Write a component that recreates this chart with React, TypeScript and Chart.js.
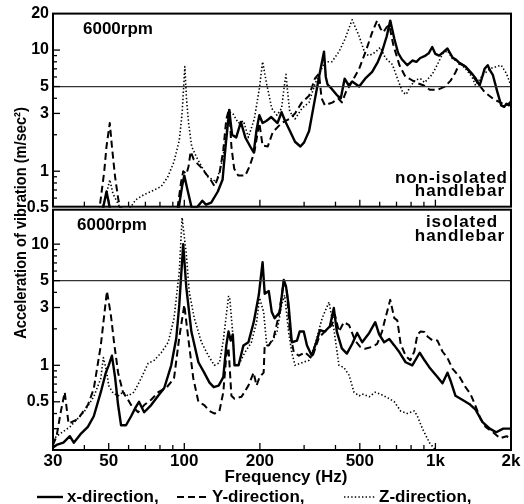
import React, { useEffect, useRef } from "react";
import { Chart, registerables } from "chart.js";

Chart.register(...registerables);

const FAMILY = '"Liberation Sans", Arial, sans-serif';

// ---- axes / ticks ----
const xTickValues = [30, 50, 100, 200, 500, 1000, 2000];
const xTickLabels = ["30", "50", "100", "200", "500", "1k", "2k"];
const xMinorTicks = [40, 60, 70, 80, 90, 300, 400, 600, 700, 800, 900];
const yTopTickValues = [0.5, 1, 3, 5, 10, 20];
const yTopTickLabels = ["0.5", "1", "3", "5", "10", "20"];
const yBotTickValues = [0.5, 1, 3, 5, 10];
const yBotTickLabels = ["0.5", "1", "3", "5", "10"];
const yMinorTicks = [0.2, 0.3, 0.4, 0.6, 0.7, 0.8, 0.9, 2, 4, 6, 7, 8, 9, 20];
const referenceLevel = 5;
const legendNames = ["x-direction,", "Y-direction,", "Z-direction,"];

// ---- data: [frequency Hz, acceleration m/s^2] ----
// non-isolated handlebar
const topX: [number, number][] = [
  [30, 0.3], [44, 0.35], [47, 0.45], [49, 0.68], [51, 0.45], [53, 0.33], [90, 0.35], [95, 0.5], [98, 0.75],
  [100, 0.92], [103, 0.7], [107, 0.5], [112, 0.5], [118, 0.57], [122, 0.53], [128, 0.55], [136, 0.68], [142, 0.85],
  [146, 1.6], [151, 3.2], [155, 2.0], [161, 1.9], [168, 2.55], [175, 1.9], [183, 1.6], [189, 1.43], [194, 2.2],
  [199, 2.9], [205, 2.5], [212, 2.6], [222, 2.8], [235, 2.5], [244, 3.07], [252, 2.6], [262, 2.2], [276, 1.75],
  [290, 1.6], [300, 1.73], [314, 2.15], [331, 3.9], [345, 6.2], [360, 9.7], [366, 6.0], [372, 5.2], [386, 4.8],
  [405, 4.25], [420, 4.0], [435, 5.8], [452, 5.1], [466, 5.5], [497, 5.0], [525, 5.8], [560, 6.6], [590, 8.0],
  [613, 9.7], [640, 13.0], [661, 17.5], [686, 12.4], [710, 9.5], [735, 8.4], [773, 7.5], [810, 8.2], [840, 8.0],
  [870, 8.6], [905, 8.9], [940, 9.4], [971, 10.6], [1000, 9.3], [1034, 9.0], [1075, 9.6], [1117, 10.3], [1169, 8.7],
  [1210, 8.3], [1249, 7.8], [1318, 7.3], [1360, 6.8], [1406, 6.3], [1450, 5.8], [1500, 5.1], [1570, 7.0], [1616, 7.5],
  [1650, 6.8], [1695, 6.2], [1760, 4.6], [1828, 3.5], [1880, 3.4], [1918, 3.6], [1960, 3.5], [2000, 3.8],
];
const topY: [number, number][] = [
  [30, 0.3], [44, 0.35], [46, 0.5], [48, 1.0], [49, 1.6], [50.5, 2.5], [51.5, 1.6], [53, 0.9], [54.5, 0.6], [56, 0.45],
  [58, 0.35], [90, 0.35], [94, 0.5], [97, 0.8], [99, 1.0], [102, 0.95], [104, 1.1], [106, 1.45], [109, 1.25],
  [113, 1.15], [118, 1.05], [122, 0.95], [126, 0.88], [132, 0.75], [138, 0.95], [143, 1.5], [147, 2.7], [151, 3.3],
  [154, 1.6], [158, 1.05], [164, 0.92], [175, 0.92], [182, 1.1], [190, 1.43], [199, 2.5], [205, 1.63], [215, 1.6],
  [225, 2.1], [244, 2.5], [262, 2.7], [276, 3.0], [294, 3.7], [314, 4.2], [331, 5.8], [344, 6.4], [352, 4.0],
  [363, 3.5], [390, 3.7], [410, 4.0], [424, 3.7], [440, 4.5], [466, 5.5], [497, 7.0], [530, 10], [560, 14],
  [586, 17.5], [605, 15], [620, 14], [640, 15.5], [655, 16], [680, 11], [719, 7.5], [760, 6.0], [789, 5.8],
  [834, 5.4], [900, 5.1], [950, 4.7], [1020, 4.7], [1090, 5.0], [1150, 5.6], [1200, 6.5], [1250, 7.8], [1320, 7.3],
  [1400, 6.2], [1500, 5.1], [1570, 4.5], [1700, 3.95], [1810, 3.7], [1900, 3.5], [2000, 3.7],
];
const topZ: [number, number][] = [
  [30, 0.3], [45, 0.4], [48, 0.55], [50.5, 0.85], [52, 0.65], [55, 0.52], [58, 0.47], [61, 0.5], [64, 0.58],
  [69, 0.64], [76, 0.7], [81, 0.75], [86, 0.9], [91, 1.2], [95.5, 1.8], [98, 3.0], [100.5, 7.3], [102, 4.0],
  [104, 2.5], [107, 1.6], [112, 1.3], [117, 1.1], [124, 0.9], [130, 0.85], [134, 0.82], [138, 1.0], [142, 1.25],
  [146, 1.8], [150, 3.1], [156, 3.0], [164, 2.5], [172, 2.6], [180, 1.9], [190, 2.7], [199, 4.8], [205, 8.0],
  [213, 5.2], [223, 3.3], [234, 2.9], [244, 3.3], [250, 5.0], [254, 6.3], [258, 4.5], [263, 3.1], [276, 2.7],
  [294, 3.3], [314, 3.7], [331, 5.2], [344, 6.3], [363, 8.0], [387, 8.0], [413, 9.7], [437, 12.4], [466, 17.8],
  [497, 13], [525, 9.3], [545, 9.0], [576, 9.6], [603, 10.5], [632, 8.6], [674, 7.6], [700, 6.1], [740, 4.5],
  [765, 4.3], [794, 5.0], [834, 5.7], [873, 5.8], [905, 5.4], [971, 6.3], [1019, 7.6], [1067, 9.3], [1117, 9.9],
  [1169, 8.5], [1250, 7.8], [1320, 7.0], [1400, 6.0], [1445, 5.1], [1541, 6.2], [1646, 7.0], [1746, 7.3],
  [1828, 7.5], [1918, 6.4], [2000, 5.1],
];
// isolated handlebar
const botX: [number, number][] = [
  [30, 0.21], [31, 0.22], [33, 0.23], [35, 0.26], [36.3, 0.23], [38.6, 0.27], [41.3, 0.31], [43.6, 0.38],
  [46.5, 0.6], [48.7, 0.87], [50, 1.0], [51.5, 1.2], [53, 0.8], [54.5, 0.47], [56, 0.32], [58.6, 0.32],
  [61.4, 0.38], [64, 0.45], [66, 0.5], [69.2, 0.41], [73.8, 0.47], [78.7, 0.56], [83.2, 0.65], [88.7, 1.0],
  [92.9, 1.67], [95.5, 3.15], [99, 10.0], [101.9, 4.35], [106.7, 1.9], [113.8, 1.06], [120, 0.87], [126, 0.72],
  [131, 0.66], [137, 0.68], [143, 0.8], [147, 1.46], [150, 1.9], [153, 1.6], [156, 1.8], [158.5, 1.0],
  [164.5, 1.0], [172, 1.46], [180, 1.55], [189, 2.27], [198, 3.8], [205, 7.1], [209, 3.9], [217, 4.1],
  [223, 2.75], [229, 2.45], [240, 2.75], [249, 5.06], [254, 4.5], [260, 3.2], [268, 1.55], [281, 1.6],
  [288, 1.9], [299, 1.9], [308, 1.46], [322, 1.2], [337, 1.6], [347, 1.95], [363, 1.9], [380, 2.1], [394, 2.97],
  [405, 1.9], [424, 1.38], [444, 1.25], [466, 1.5], [488, 1.85], [511, 1.55], [545, 1.85], [576, 2.27],
  [597, 1.8], [625, 1.55], [655, 1.65], [686, 1.46], [719, 1.28], [761, 1.06], [809, 1.0], [866, 1.27],
  [905, 1.1], [954, 0.94], [1019, 0.8], [1067, 0.71], [1117, 0.87], [1148, 0.75], [1202, 0.56], [1279, 0.52],
  [1364, 0.48], [1445, 0.43], [1541, 0.34], [1646, 0.3], [1746, 0.28], [1862, 0.3], [2000, 0.3],
];
const botY: [number, number][] = [
  [30, 0.22], [31, 0.26], [32.2, 0.41], [33.4, 0.6], [34.6, 0.33], [37.7, 0.36], [41.3, 0.47], [43.6, 0.64],
  [46.5, 1.46], [49.2, 4.1], [51, 2.6], [52.5, 1.55], [54.5, 0.87], [57, 0.6], [59.7, 0.52], [61.4, 0.47],
  [65.5, 0.41], [69.2, 0.47], [73.8, 0.52], [78.7, 0.6], [84.7, 0.65], [91, 0.78], [95.5, 1.7], [100, 3.15],
  [103.8, 1.65], [108.6, 0.78], [113.8, 0.5], [120, 0.47], [126, 0.42], [132, 0.4], [138, 0.42], [143, 0.6],
  [147, 1.2], [150, 1.4], [154, 0.56], [158.5, 0.53], [169, 0.55], [180, 0.68], [188.8, 0.87], [194, 0.68],
  [199.5, 0.8], [207, 0.87], [209, 1.46], [217, 1.46], [227, 1.7], [238, 2.6], [249, 4.9], [256, 4.2], [263, 1.9],
  [273, 1.28], [286, 1.2], [302, 1.28], [322, 1.14], [344, 1.7], [363, 1.9], [387, 2.15], [398, 2.6], [413, 1.9],
  [432, 2.27], [453, 2.15], [479, 1.6], [502, 1.42], [525, 1.37], [560, 1.42], [586, 1.5], [613, 1.9],
  [632, 2.45], [661, 3.47], [686, 2.45], [705, 2.35], [727, 1.5], [761, 1.2], [794, 1.1], [824, 1.3], [848, 1.8],
  [873, 1.9], [905, 1.88], [932, 1.72], [976, 1.6], [1019, 1.6], [1067, 1.3], [1117, 1.15], [1169, 0.94],
  [1249, 0.8], [1318, 0.66], [1380, 0.58], [1445, 0.46], [1514, 0.36], [1585, 0.31], [1695, 0.28], [1810, 0.25],
  [1918, 0.26], [2000, 0.25],
];
const botZ: [number, number][] = [
  [30, 0.24], [31, 0.26], [35, 0.31], [39.8, 0.41], [43.6, 0.55], [46.5, 0.78], [47.6, 1.16], [49, 0.9],
  [50, 0.68], [52, 0.59], [54.5, 0.56], [57, 0.6], [59.7, 0.56], [63, 0.6], [67.3, 0.78], [71.8, 1.04],
  [75.9, 1.1], [80.9, 1.27], [86.3, 1.55], [91, 2.45], [95.5, 5.9], [98, 16.6], [101.9, 8.2], [104.7, 4.0],
  [109.6, 2.45], [117, 1.55], [124.7, 1.2], [131.8, 1.0], [138, 1.05], [143, 1.6], [150, 3.7], [151.5, 3.7],
  [155.7, 1.9], [158.5, 1.0], [164.5, 1.0], [174, 1.27], [185, 1.55], [194, 2.27], [199.5, 3.6], [207, 2.75],
  [213, 1.46], [223, 1.55], [234, 1.9], [244, 3.15], [251, 3.8], [260, 1.9], [268, 1.27], [276, 1.0], [294, 1.05],
  [314, 1.1], [331, 1.46], [354, 2.45], [377, 3.33], [394, 2.0], [413, 1.0], [432, 0.96], [453, 0.83], [474, 0.6],
  [497, 0.56], [511, 0.58], [545, 0.55], [576, 0.6], [613, 0.57], [655, 0.53], [686, 0.5], [727, 0.42],
  [773, 0.4], [824, 0.42], [848, 0.38], [888, 0.3], [947, 0.23], [1000, 0.2], [1067, 0.19], [1138, 0.2],
  [1230, 0.18], [1406, 0.17], [2000, 0.16],
];

const lineStyles = [
  { borderWidth: 2.4, borderDash: [] as number[] },
  { borderWidth: 2.0, borderDash: [7, 4] },
  { borderWidth: 1.6, borderDash: [1.4, 2.2] },
];

const decor = {
  id: "decor",
  afterDatasetsDraw(chart: any) {
    const { ctx, chartArea: ca, scales } = chart;
    const xs = scales.x, yt = scales.yTop, yb = scales.yBot;
    const L = ca.left, R = ca.right;
    const line = (x1: number, y1: number, x2: number, y2: number) => {
      ctx.beginPath(); ctx.moveTo(x1, y1); ctx.lineTo(x2, y2); ctx.stroke();
    };
    ctx.save();
    // reference lines
    ctx.lineWidth = 1.2;
    ctx.strokeStyle = "#333";
    for (const s of [yt, yb]) {
      const p = s.getPixelForValue(referenceLevel);
      line(L, p, R, p);
    }
    ctx.strokeStyle = "#000";
    // frames
    const topBottom = yt.bottom - 1;
    const botTop = yb.top + 2;
    ctx.lineWidth = 2;
    ctx.strokeRect(L, yt.top, R - L, topBottom - yt.top);
    ctx.strokeRect(L, botTop, R - L, yb.bottom - botTop);
    // inward ticks
    ctx.lineWidth = 1.3;
    for (const base of [topBottom, yb.bottom]) {
      for (const v of xTickValues) { const p = xs.getPixelForValue(v); line(p, base, p, base - 7); }
      for (const v of xMinorTicks) { const p = xs.getPixelForValue(v); line(p, base, p, base - 5); }
    }
    const yTicks = (s: any, majors: number[], lo: number, hi: number) => {
      for (const v of majors) { const p = s.getPixelForValue(v); if (p > lo && p < hi) line(L, p, L + 7, p); }
      for (const v of yMinorTicks) {
        if (v < s.min || v > s.max) continue;
        const p = s.getPixelForValue(v);
        if (p > lo && p < hi) line(L, p, L + 4, p);
      }
    };
    yTicks(yt, yTopTickValues, yt.top + 1, topBottom - 1);
    yTicks(yb, yBotTickValues, botTop + 1, yb.bottom - 1);

    // panel texts
    ctx.fillStyle = "#000";
    ctx.font = `bold 17px ${FAMILY}`;
    ctx.textBaseline = "middle";
    ctx.textAlign = "left";
    ctx.fillText("6000rpm", L + 30, yt.top + 16);
    ctx.fillText("6000rpm", L + 24, botTop + 16);
    (ctx as any).letterSpacing = "1px";
    ctx.textAlign = "right";
    ctx.fillText("non-isolated", R - 3, topBottom - 28);
    ctx.fillText("handlebar", R - 6, topBottom - 15);
    ctx.fillText("handlebar", R - 6, botTop + 27);
    ctx.textAlign = "center";
    ctx.fillText("isolated", R - 49, botTop + 13);
    (ctx as any).letterSpacing = "0px";

    // x title
    ctx.fillText("Frequency (Hz)", 286, yb.bottom + 27);

    // y title
    ctx.save();
    ctx.translate(21, 223);
    ctx.rotate(-Math.PI / 2);
    ctx.scale(0.86, 1);
    ctx.fillText("Acceleration of vibration (m/sec\u00B2)", 0, 0);
    ctx.restore();

    // legend
    const ly = yb.bottom + 47;
    const items = [
      { x1: 37, x2: 63, tx: 67 },
      { x1: 177, x2: 208, tx: 212 },
      { x1: 344, x2: 375, tx: 379 },
    ];
    ctx.textAlign = "left";
    items.forEach((it, i) => {
      ctx.lineWidth = lineStyles[i].borderWidth;
      ctx.setLineDash(lineStyles[i].borderDash);
      line(it.x1, ly, it.x2, ly);
      ctx.setLineDash([]);
      ctx.fillText(legendNames[i], it.tx, ly);
    });
    ctx.restore();
  },
};

export default function App() {
  const ref = useRef<HTMLCanvasElement | null>(null);
  useEffect(() => {
    if (!ref.current) return;
    const toPts = (arr: [number, number][]) => arr.map(([x, y]) => ({ x, y }));
    const mk = (arr: [number, number][], axis: string, style: number) => ({
      data: toPts(arr),
      yAxisID: axis,
      xAxisID: "x",
      borderColor: "#000",
      backgroundColor: "#000",
      borderWidth: lineStyles[style].borderWidth,
      borderDash: lineStyles[style].borderDash,
      borderJoinStyle: "round" as const,
      pointRadius: 0,
      tension: 0,
      fill: false,
      clip: 0,
    });
    const tickFont = { family: FAMILY, size: 17, weight: "bold" as const };
    const yTickFont = { family: FAMILY, size: 16, weight: "bold" as const };
    const chart = new Chart(ref.current, {
      type: "line",
      data: {
        datasets: [
          mk(topX, "yTop", 0), mk(topY, "yTop", 1), mk(topZ, "yTop", 2),
          mk(botX, "yBot", 0), mk(botY, "yBot", 1), mk(botZ, "yBot", 2),
        ],
      },
      options: {
        responsive: false,
        animation: false,
        events: [],
        layout: { padding: { left: 0, right: 13, top: 12, bottom: 0 } },
        plugins: { legend: { display: false }, tooltip: { enabled: false } },
        scales: {
          x: {
            type: "logarithmic",
            min: 30,
            max: 2000,
            position: "bottom",
            grid: { display: false, drawTicks: false },
            border: { display: false },
            afterBuildTicks: (s: any) => { s.ticks = xTickValues.map((v) => ({ value: v })); },
            afterFit: (s: any) => { s.height = 54; },
            ticks: {
              autoSkip: false,
              maxRotation: 0,
              padding: 1,
              color: "#000",
              font: tickFont,
              callback: (v: any) => { const i = xTickValues.indexOf(Number(v)); return i >= 0 ? xTickLabels[i] : ""; },
            },
          },
          yBot: {
            type: "logarithmic",
            min: 0.2,
            max: 20,
            position: "left",
            stack: "panels",
            stackWeight: 2.0,
            grid: { display: false, drawTicks: false },
            border: { display: false },
            afterBuildTicks: (s: any) => { s.ticks = yBotTickValues.map((v) => ({ value: v })); },
            afterFit: (s: any) => { s.width = 53; },
            ticks: {
              autoSkip: false,
              padding: 4,
              color: "#000",
              font: yTickFont,
              callback: (v: any) => { const i = yBotTickValues.indexOf(Number(v)); return i >= 0 ? yBotTickLabels[i] : ""; },
            },
          },
          yTop: {
            type: "logarithmic",
            min: 0.5,
            max: 20,
            position: "left",
            stack: "panels",
            stackWeight: 1.602,
            grid: { display: false, drawTicks: false },
            border: { display: false },
            afterBuildTicks: (s: any) => { s.ticks = yTopTickValues.map((v) => ({ value: v })); },
            afterFit: (s: any) => { s.width = 53; },
            ticks: {
              autoSkip: false,
              padding: 4,
              color: "#000",
              font: yTickFont,
              callback: (v: any) => { const i = yTopTickValues.indexOf(Number(v)); return i >= 0 ? yTopTickLabels[i] : ""; },
            },
          },
        },
      } as any,
      plugins: [decor],
    });
    return () => chart.destroy();
  }, []);
  return (
    <div style={{ position: "absolute", left: 0, top: 0, width: 524, height: 504, background: "#fff" }}>
      <canvas ref={ref} width={524} height={504} style={{ display: "block", width: 524, height: 504 }} />
    </div>
  );
}
